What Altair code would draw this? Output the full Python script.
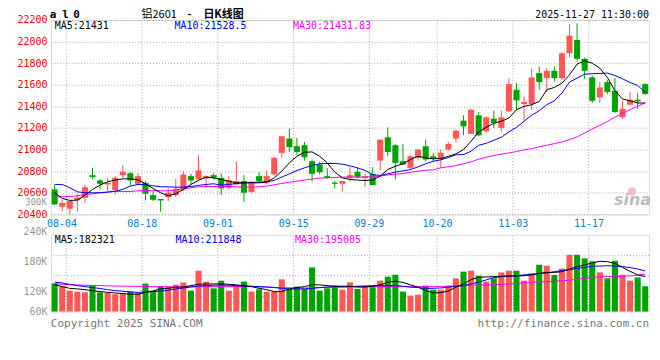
import altair as alt
import pandas as pd

dates = ["08-01","08-04","08-05","08-06","08-07","08-08","08-11","08-12","08-13","08-14","08-15",
         "08-18","08-19","08-20","08-21","08-22","08-25","08-26","08-27","08-28","08-29",
         "09-01","09-02","09-03","09-04","09-05","09-08","09-09","09-10","09-11","09-12",
         "09-15","09-16","09-17","09-18","09-19","09-22","09-23","09-24","09-25","09-26",
         "09-29","09-30","10-09","10-10","10-13","10-14","10-15","10-16","10-17",
         "10-20","10-21","10-22","10-23","10-24","10-27","10-28","10-29","10-30","10-31",
         "11-03","11-04","11-05","11-06","11-07","11-10","11-11","11-12","11-13","11-14",
         "11-17","11-18","11-19","11-20","11-21","11-24","11-25","11-26","11-27"]

opens = [20631,20471,20452,20529,20554,20763,20714,20677,20625,20763,
         20781,20683,20692,20578,20542,20560,20578,20631,20754,20723,
         20732,20763,20738,20646,20677,20708,20606,20754,20692,20769,
         20969,21102,21031,21040,20892,20862,20754,20695,20683,20738,
         20794,20738,20775,20898,21114,21040,20892,20831,20923,21031,
         20938,20917,21000,21102,21268,21145,21317,21169,21286,21200,
         21354,21554,21421,21421,21708,21661,21729,21661,21892,22015,
         21840,21668,21483,21624,21545,21298,21415,21461,21606]
closes = [20492,20505,20523,20554,20652,20745,20683,20692,20738,20794,
          20714,20754,20591,20535,20529,20600,20634,20769,20714,20806,
          20754,20738,20640,20714,20708,20600,20702,20708,20754,20923,
          21123,21022,20978,20929,20775,20791,20738,20683,20708,20763,
          20745,20754,20671,21092,20978,20877,20862,20938,21000,20908,
          20917,20969,21052,21175,21215,21369,21132,21298,21246,21298,
          21606,21455,21440,21667,21624,21729,21661,21892,22055,21840,
          21729,21452,21575,21532,21348,21378,21461,21446,21514]
highs = [20671,20538,20523,20591,20671,20831,20729,20738,20754,20855,
         20791,20781,20708,20615,20542,20646,20729,20800,20775,20948,
         20760,20781,20781,20754,20886,20763,20708,20791,20806,20935,
         21123,21194,21108,21071,20908,20886,20831,20708,20708,20837,
         20831,20775,20837,21092,21206,21052,21052,20945,21000,21092,
         20969,21000,21071,21185,21317,21378,21348,21308,21360,21360,
         21661,21615,21492,21748,21769,21754,21769,21901,22160,22169,
         21852,21686,21624,21646,21661,21452,21532,21523,21615]
lows = [20486,20425,20400,20425,20508,20723,20631,20615,20585,20738,
        20671,20671,20529,20523,20425,20523,20560,20615,20677,20714,
        20646,20723,20578,20631,20671,20517,20600,20700,20677,20760,
        20923,20978,20954,20898,20702,20769,20729,20646,20615,20702,
        20732,20652,20671,20809,20938,20723,20862,20815,20900,20892,
        20892,20831,20991,21062,21132,21145,21123,21154,21200,21169,
        21348,21369,21268,21369,21554,21532,21631,21646,21852,21815,
        21655,21431,21431,21514,21338,21286,21409,21378,21508]
volumes_k = [147,132,109,104,100,135,100,97,90,95,
             104,97,146,109,130,130,140,151,109,213,
             156,121,161,109,135,156,104,116,104,104,
             168,118,130,118,230,109,121,135,114,152,
             118,135,127,161,182,192,104,83,88,135,
             114,114,135,173,208,213,187,156,173,204,
             213,213,161,199,244,239,191,225,296,296,
             277,262,204,173,265,192,161,178,132]
ma5 = [20600,20548,20529,20532,20578,20631,20671,20702,20717,20729,
       20729,20720,20683,20640,20600,20572,20591,20631,20677,20714,
       20745,20738,20723,20708,20692,20692,20692,20692,20698,20738,
       20800,20877,20938,20975,20978,20938,20877,20791,20738,20723,
       20717,20714,20717,20754,20815,20846,20868,20908,20938,20923,
       20914,20917,20938,20960,21000,21077,21163,21206,21243,21262,
       21292,21369,21400,21415,21446,21554,21575,21615,21692,21791,
       21822,21800,21754,21668,21545,21468,21452,21431,21431]
ma10 = [20677,20677,20646,20609,20600,20600,20600,20606,20615,20631,
        20662,20677,20674,20665,20655,20655,20652,20652,20658,20668,
        20677,20683,20671,20677,20686,20692,20695,20698,20702,20714,
        20745,20775,20806,20831,20852,20868,20871,20871,20865,20849,
        20831,20806,20769,20760,20775,20791,20803,20815,20840,20868,
        20892,20905,20926,20951,20954,20985,21040,21058,21086,21114,
        21163,21206,21262,21317,21360,21415,21452,21523,21625,21662,
        21698,21702,21705,21708,21686,21655,21621,21594,21528.5]
ma30 = [20560,20563,20566,20572,20582,20591,20600,20606,20612,20612,
        20612,20618,20622,20622,20618,20618,20628,20634,20646,20655,
        20658,20658,20658,20658,20655,20652,20652,20655,20662,20674,
        20686,20698,20708,20717,20726,20735,20738,20742,20745,20745,
        20745,20745,20748,20754,20766,20772,20778,20791,20800,20809,
        20812,20831,20840,20852,20868,20886,20911,20929,20945,20957,
        20969,20982,20997,21009,21025,21040,21055,21071,21092,21117,
        21154,21190,21225,21260,21300,21335,21370,21400,21431.83]
vma5 = [140,130,121,118,114,109,104,100,97,94,
        90,90,100,107,118,121,127,128,135,142,
        144,144,144,142,139,135,130,121,114,104,
        104,118,125,130,140,139,135,132,132,132,
        128,128,132,139,152,158,152,139,127,109,
        97,99,107,127,144,166,179,180,182,184,
        185,185,187,191,199,204,204,208,222,234,
        243,253,262,260,251,230,210,191,182.3]
vma10 = [153,149,142,135,130,125,120,114,109,106,
         102,100,102,104,107,111,118,123,128,133,
         135,137,139,137,135,133,132,130,128,125,
         121,118,118,118,121,125,128,130,130,130,
         132,133,135,135,135,135,132,127,125,121,
         121,123,127,132,135,144,153,165,177,182,
         185,187,191,194,198,201,208,213,218,225,
         230,236,237,239,237,234,229,222,211.8]
vma30 = [144,142,140,139,137,136,135,134,133,132,
         132,131,131,130,130,129,129,129,129,130,
         130,131,131,131,131,130,130,129,128,126,
         125,124,123,123,124,125,126,127,127,128,
         129,130,130,130,130,130,130,130,130,130,
         130,131,132,134,135,137,138,139,140,142,
         144,147,150,153,155,156,158,160,163,168,
         174,178,181,182,182,184,186,190,195]

tick_dates = ["08-04", "08-18", "09-01", "09-15", "09-29", "10-20", "11-03", "11-17"]
price_ticks = [20400, 20600, 20800, 21000, 21200, 21400, 21600, 21800, 22000, 22200]
vol_label_values = [0, 104, 260, 400]
vol_labels = ["60K", "120K", "180K", "240K"]
vol_grid = [78, 187, 291]

title_left = ["a", "l", "0"]
title_mid = ["铝2601", "-", "日K线图"]
title_time = "2025-11-27 11:30:00"
price_ma_text = ["MA5:21431", "MA10:21528.5", "MA30:21431.83"]
vol_ma_text = ["MA5:182321", "MA10:211848", "MA30:195005"]
footer_left = "Copyright 2025 SINA.COM"
footer_right = "http://finance.sina.com.cn"
stray_label = "300K"
watermark = "sina"

RED = "#FF5656"
GREEN = "#00A300"
MONO = "DejaVu Sans Mono"
CJK = "Noto Sans CJK SC"
N = len(dates)

df = pd.DataFrame({
    "date": dates, "open": opens, "close": closes, "high": highs, "low": lows,
    "vol": volumes_k, "ma5": ma5, "ma10": ma10, "ma30": ma30,
    "vma5": vma5, "vma10": vma10, "vma30": vma30,
})
df["pos"] = [i + 0.5 for i in range(N)]
df["left"] = [i + 0.1 for i in range(N)]
df["right"] = [i + 0.9 for i in range(N)]
df["top"] = df[["open", "close"]].max(axis=1)
df["bot"] = df[["open", "close"]].min(axis=1)
df["dir"] = ["up" if c >= o else "down" for o, c in zip(opens, closes)]

tick_pos = [dates.index(d) + 1 for d in tick_dates]
label_expr = ""
for p, d in zip(tick_pos, tick_dates):
    label_expr += f"datum.value == {p} ? '{d}' : "
label_expr += "''"

vol_expr = ""
for v, t in zip(vol_label_values, vol_labels):
    vol_expr += f"datum.value == {v} ? '{t}' : "
vol_expr += "''"

xscale = alt.Scale(domain=[0, N], nice=False, zero=False)
color = alt.Color("dir:N", scale=alt.Scale(domain=["up", "down"], range=[RED, GREEN]), legend=None)

grid_kw = dict(grid=True, gridColor="#A8A8A8", gridDash=[1, 2], gridWidth=1)


def x_main(field):
    return alt.X(field, type="quantitative", scale=xscale,
                 axis=alt.Axis(values=tick_pos, labels=False, ticks=False, domain=False,
                               title=None, **grid_kw))


def x_vol(field):
    return alt.X(field, type="quantitative", scale=xscale,
                 axis=alt.Axis(values=tick_pos, orient="top", labelExpr=label_expr,
                               labelColor="#0A7ED0", labelFont=MONO, labelFontSize=10,
                               labelPadding=6.5, ticks=False, domain=False, title=None,
                               labelOffset={"condition": {"test": f"datum.value == {tick_pos[0]}",
                                                          "value": -4.5}, "value": 0},
                               labelBaseline="bottom", **grid_kw))


pscale = alt.Scale(domain=[20400, 22200], nice=False, zero=False)


def y_main(field):
    return alt.Y(field, type="quantitative", scale=pscale,
                 axis=alt.Axis(values=price_ticks, format="d", labelColor="#FF0000", labelFont=MONO,
                               labelFontSize=10, labelPadding=4, ticks=False, domain=False,
                               title=None, **grid_kw))


vscale = alt.Scale(domain=[0, 400], nice=False, zero=False)


def y_vol(field):
    return alt.Y(field, type="quantitative", scale=vscale,
                 axis=alt.Axis(values=vol_label_values, labelExpr=vol_expr, labelColor="#999999",
                               labelFont=MONO, labelFontSize=10, labelPadding=4, ticks=False,
                               labelOffset={"condition": {"test": "datum.value == 400", "value": -3},
                                            "value": 0},
                               domain=False, title=None, grid=False))


def label(text, x, y, color="#000000", size=10, align="left", weight="normal", font=MONO,
          style="normal"):
    return alt.Chart(pd.DataFrame({"t": [text]})).mark_text(
        align=align, baseline="middle", color=color, fontSize=size, font=font,
        fontWeight=weight, fontStyle=style
    ).encode(text="t:N", x=alt.value(x), y=alt.value(y))


base = alt.Chart(df)

wicks = base.mark_rule(strokeWidth=1).encode(x=x_main("pos"), y=y_main("low"), y2="high", color=color)
bodies = base.mark_rect().encode(x=x_main("left"), x2="right", y=y_main("top"), y2="bot", color=color)
l5 = base.mark_line(color="#000000", strokeWidth=1).encode(x=x_main("pos"), y=y_main("ma5"))
l10 = base.mark_line(color="#0000FF", strokeWidth=1).encode(x=x_main("pos"), y=y_main("ma10"))
l30 = base.mark_line(color="#FF00FF", strokeWidth=1).encode(x=x_main("pos"), y=y_main("ma30"))

logo = alt.Chart(pd.DataFrame({"t": [watermark]})).mark_point(
    shape="circle", filled=True, size=70, color="#F5B8B8", opacity=0.9
).encode(x=alt.value(583), y=alt.value(172))

main = alt.layer(
    wicks, bodies, l30, l10, l5,
    label(price_ma_text[0], 4, 6.5, "#000000"),
    label(price_ma_text[1], 124, 6.5, "#0000FF"),
    label(price_ma_text[2], 243, 6.5, "#FF00FF"),
    label(title_left[0], -1, -4.5, "#000000", 11, weight="bold"),
    label(title_left[1], 11.5, -4.5, "#000000", 11, weight="bold"),
    label(title_left[2], 22.5, -4.5, "#000000", 11, weight="bold"),
    label(title_mid[0], 91, -4.5, "#000000", 11, font=CJK),
    label(title_mid[1], 137, -4.5, "#000000", 11, font=CJK, weight="bold"),
    label(title_mid[2], 153, -4.5, "#000000", 11, font=CJK, weight="bold"),
    label(title_time, 600, -4.5, "#000000", 10, align="right"),
    label(stray_label, -4, 183, "#999999", 9, align="right"),
    logo,
    label(watermark, 602, 181, "#BDBDBD", 16, align="right", weight="bold",
          font="DejaVu Sans", style="italic"),
).properties(width=600, height=195)

vbars = base.mark_rect().encode(x=x_vol("left"), x2="right", y=y_vol("vol"), y2=alt.datum(0), color=color)
v5 = base.mark_line(color="#000000", strokeWidth=1).encode(x=x_vol("pos"), y=y_vol("vma5"))
v10 = base.mark_line(color="#0000FF", strokeWidth=1).encode(x=x_vol("pos"), y=y_vol("vma10"))
v30 = base.mark_line(color="#FF00FF", strokeWidth=1).encode(x=x_vol("pos"), y=y_vol("vma30"))
vgrid = alt.Chart(pd.DataFrame({"g": vol_grid})).mark_rule(
    color="#A8A8A8", strokeDash=[1, 2], strokeWidth=1).encode(y=y_vol("g"))

vol = alt.layer(
    vgrid, vbars, v30, v10, v5,
    label(vol_ma_text[0], 4, 5, "#000000"),
    label(vol_ma_text[1], 125, 5, "#0000FF"),
    label(vol_ma_text[2], 245, 5, "#FF00FF"),
    label(footer_left, 0, 89.5, "#777777", 11),
    label(footer_right, 600, 89.5, "#777777", 11, align="right"),
).properties(width=600, height=77)

chart = alt.vconcat(main, vol, spacing=-2.5).properties(
    padding={"left": 8, "top": 0.5, "right": 0, "bottom": 0}
).configure_view(stroke="#999999", strokeWidth=1.5).configure(background="#FFFFFF")

chart.save("out.html", embed_options={"renderer": "svg", "actions": False})
